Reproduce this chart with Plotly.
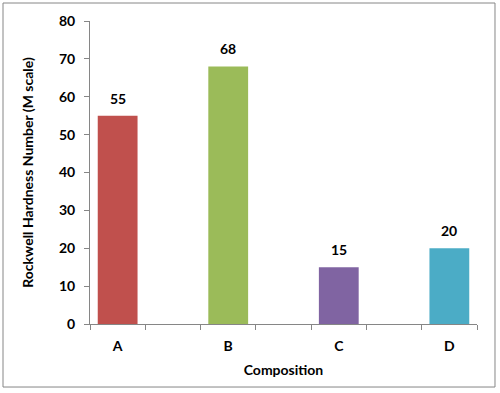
import plotly.graph_objects as go

categories = ["A", "B", "C", "D"]
values = [55, 68, 15, 20]
colors = ["#C0504D", "#9BBB59", "#8064A2", "#4BACC6"]
y_ticks = [0, 10, 20, 30, 40, 50, 60, 70, 80]

# categories sit in every other slot (blank slots between them)
positions = [2 * i for i in range(len(categories))]

font_family = "Lato, 'Open Sans', sans-serif"

fig = go.Figure()
fig.add_trace(go.Bar(
    x=positions, y=values, width=0.72,
    marker=dict(color=colors, line=dict(width=0)),
    hoverinfo="skip", showlegend=False,
))
for p, v in zip(positions, values):
    fig.add_annotation(x=p, y=v, text=f"<b>{v}</b>", showarrow=False,
                       yanchor="bottom", yshift=7,
                       font=dict(size=14, color="black", family=font_family))

fig.update_layout(
    width=500, height=393,
    margin=dict(l=90, r=23, t=21, b=69),
    paper_bgcolor="white", plot_bgcolor="white",
    font=dict(family=font_family, color="black"),
    xaxis=dict(
        range=[-0.5, 2 * len(categories) - 1.5],
        tickvals=positions, ticktext=[f"<b>{c}</b>" for c in categories],
        ticks="", showgrid=False, zeroline=False, automargin=False,
        showline=True, linecolor="#868686", linewidth=1,
        tickfont=dict(size=14, family=font_family),
        ticklabelstandoff=9,
        minor=dict(tick0=-0.5, dtick=1, ticks="outside", ticklen=5,
                   tickcolor="#868686", showgrid=False),
        title=dict(text="<b>Composition</b>", font=dict(size=14, family=font_family), standoff=12),
    ),
    yaxis=dict(
        range=[0, 80], tickvals=y_ticks,
        ticktext=[f"<b>{t}</b>" for t in y_ticks],
        ticks="outside", ticklen=5, tickcolor="#868686",
        showgrid=False, zeroline=False, automargin=False,
        ticklabelstandoff=6,
        showline=True, linecolor="#868686", linewidth=1,
        tickfont=dict(size=14, family=font_family),
        title=dict(text="<b>Rockwell Hardness Number (M scale)</b>",
                   font=dict(size=14, family=font_family), standoff=22),
    ),
    bargap=0.28,
)

# chart outer border
fig.add_shape(type="rect", xref="paper", yref="paper",
              x0=-0.2248, x1=1.0465, y0=-0.208, y1=1.0594,
              line=dict(color="#868686", width=1), fillcolor="rgba(0,0,0,0)", layer="below")

fig.write_html("out.html", config={"displayModeBar": False},
               post_script="document.body.style.margin='0';")
